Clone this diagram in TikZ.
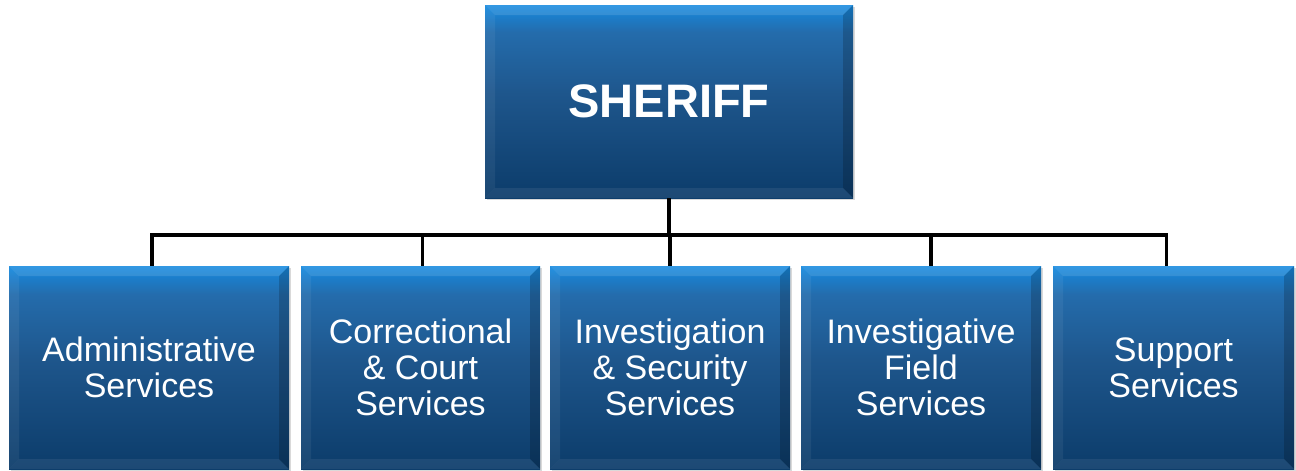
\documentclass[tikz,border=0pt]{standalone}
\usepackage{fontspec}
\setmainfont{Liberation Sans}
\usetikzlibrary{shadows}

\definecolor{boxtop}{RGB}{22,138,224}
\definecolor{boxup}{RGB}{36,108,172}
\definecolor{boxmid}{RGB}{30,86,140}
\definecolor{boxbot}{RGB}{12,60,106}
\pgfdeclareverticalshading{boxshade}{100bp}{color(0bp)=(boxbot); color(25bp)=(boxbot); color(52bp)=(boxmid); color(68bp)=(boxup); color(75bp)=(boxtop); color(100bp)=(boxtop)}

\tikzset{
    unit/.style={rectangle, text=white, align=center, inner sep=0pt,
        shading=boxshade,
        drop shadow={opacity=.3, shadow xshift=2pt, shadow yshift=-2pt},
        font=\fontsize{34}{36}\selectfont,
        path picture={
            \coordinate (nw) at (path picture bounding box.north west);
            \coordinate (ne) at (path picture bounding box.north east);
            \coordinate (sw) at (path picture bounding box.south west);
            \coordinate (se) at (path picture bounding box.south east);
            \fill[white, opacity=.12] (nw) -- (ne) -- ([shift={(-10pt,-10pt)}]ne) -- ([shift={(10pt,-10pt)}]nw) -- cycle;
            \fill[white, opacity=.06] (nw) -- (sw) -- ([shift={(10pt,10pt)}]sw) -- ([shift={(10pt,-10pt)}]nw) -- cycle;
            \fill[black, opacity=.18] (ne) -- (se) -- ([shift={(-10pt,10pt)}]se) -- ([shift={(-10pt,-10pt)}]ne) -- cycle;
            \fill[white, opacity=.07] (sw) -- (se) -- ([shift={(-10pt,10pt)}]se) -- ([shift={(10pt,10pt)}]sw) -- cycle;
        }},
    tie/.style={line width=3.5pt, black}
}

\begin{document}
\begin{tikzpicture}[x=1pt, y=-1pt]
        \useasboundingbox (0,0) rectangle (1296,471);
        \coordinate (bar) at (669,235);
        
        \node[unit, minimum width=368pt, minimum height=193pt, font=\fontsize{47}{50}\bfseries] (sheriff) at (669,101.5) {SHERIFF};
        
        \node[unit, minimum width=280pt, minimum height=203pt] (admin) at (149,367.5) {Administrative\\Services};
        \node[unit, minimum width=239pt, minimum height=203pt] (court) at (420.5,367.5) {Correctional\\\& Court\\Services};
        \node[unit, minimum width=240pt, minimum height=203pt] (secur) at (670,367.5) {Investigation\\\& Security\\Services};
        \node[unit, minimum width=240pt, minimum height=203pt] (field) at (921,367.5) {Investigative\\Field\\Services};
        \node[unit, minimum width=241pt, minimum height=203pt] (support) at (1173.5,367.5) {Support\\Services};
        
        \draw[tie] (sheriff.south) -- (bar);
        \draw[tie] ([xshift=3pt]admin.north) |- (bar) -| ([xshift=-7pt]support.north);
        \draw[tie] ([xshift=2pt]court.north) -- ([xshift=2pt]court.north |- bar);
        \draw[tie] (secur.north) -- (secur.north |- bar);
        \draw[tie] ([xshift=10pt]field.north) -- ([xshift=10pt]field.north |- bar);
\end{tikzpicture}
\end{document}
